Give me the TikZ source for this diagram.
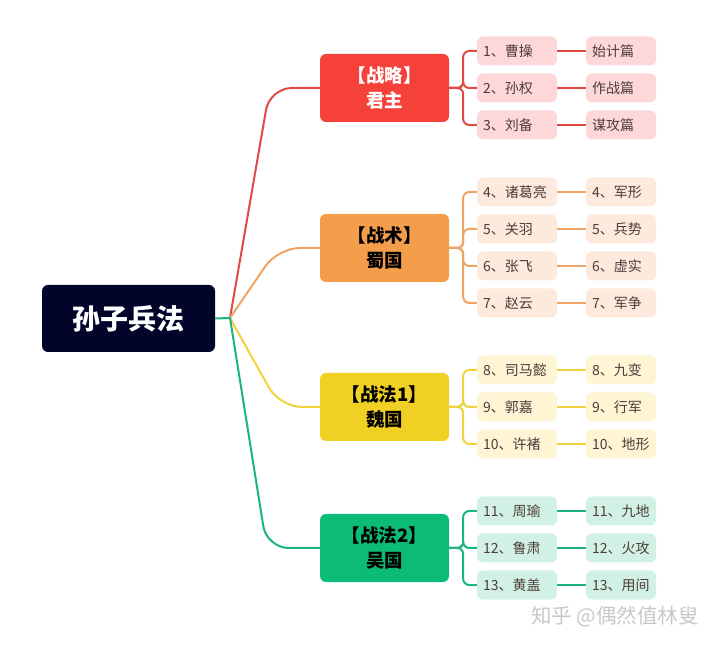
\documentclass[tikz,border=0pt]{standalone}
\usepackage{fontspec}
\setmainfont{Noto Sans CJK SC}
\usetikzlibrary{positioning}
\definecolor{rootbg}{HTML}{03042A}
\definecolor{redbg}{HTML}{F6413A}
\definecolor{orangebg}{HTML}{F49D4B}
\definecolor{yellowbg}{HTML}{F1D024}
\definecolor{greenbg}{HTML}{0CBB76}
\definecolor{redleaf}{HTML}{FED8D8}
\definecolor{orangeleaf}{HTML}{FDEADC}
\definecolor{yellowleaf}{HTML}{FEF5D4}
\definecolor{greenleaf}{HTML}{D2F1E5}
\definecolor{redline}{HTML}{DF4A44}
\definecolor{orangeline}{HTML}{EEA466}
\definecolor{yellowline}{HTML}{F0D23A}
\definecolor{greenline}{HTML}{1BB47E}
\definecolor{leaftext}{HTML}{4D3C3C}
\definecolor{marktext}{HTML}{C8C8C8}

\begin{document}
\begin{tikzpicture}[x=1pt,y=1pt,node distance=37pt,
        root node/.style={rectangle,rounded corners=6pt,fill=rootbg,text=white,
          minimum width=173pt,minimum height=67pt,font=\fontsize{28}{30}\selectfont\bfseries},
        branch node/.style={rectangle,rounded corners=6pt,minimum width=129pt,
          minimum height=68pt,align=center,text=black,font=\fontsize{18.5}{25}\selectfont\bfseries},
        leaf node/.style={rectangle,rounded corners=6pt,minimum height=29pt,text width=68pt,
          inner xsep=6pt,inner ysep=0pt,align=left,text=leaftext,font=\fontsize{14}{16}\selectfont},
        pian node/.style={leaf node,text width=58pt},
        red line/.style={draw=redline,line width=2pt},
        orange line/.style={draw=orangeline,line width=2pt},
        yellow line/.style={draw=yellowline,line width=2pt},
        green line/.style={draw=greenline,line width=2pt},
        watermark/.style={text=marktext,font=\fontsize{20.5}{22}\selectfont}]

        \useasboundingbox (0,0) rectangle (720,648);

        \node[root node] (sunzi) at (128.5,329.5) {孙子兵法};
        \coordinate (jn) at (230,330);

        \node[branch node] [fill=redbg,text=white] (jun) at (384.5,560) {【战略】\\君主};
        \node[branch node] [fill=orangebg] (shu) at (384.5,400) {【战术】\\蜀国};
        \node[branch node] [fill=yellowbg] (wei) at (384.5,241) {【战法1】\\魏国};
        \node[branch node] [fill=greenbg] (wu) at (384.5,100) {【战法2】\\吴国};

        % 君主
        \node[leaf node] [fill=redleaf] (jun1) at (517,597) {1、曹操};
        \node[leaf node] [fill=redleaf] (jun2) [below of=jun1] {2、孙权};
        \node[leaf node] [fill=redleaf] (jun3) [below of=jun2] {3、刘备};
        \node[pian node] [fill=redleaf] (jun1r) [right of=jun1,node distance=104pt] {始计篇};
        \node[pian node] [fill=redleaf] (jun2r) [right of=jun2,node distance=104pt] {作战篇};
        \node[pian node] [fill=redleaf] (jun3r) [right of=jun3,node distance=104pt] {谋攻篇};

        % 蜀国
        \node[leaf node] [fill=orangeleaf] (shu1) at (517,456) {4、诸葛亮};
        \node[leaf node] [fill=orangeleaf] (shu2) [below of=shu1] {5、关羽};
        \node[leaf node] [fill=orangeleaf] (shu3) [below of=shu2] {6、张飞};
        \node[leaf node] [fill=orangeleaf] (shu4) [below of=shu3] {7、赵云};
        \node[pian node] [fill=orangeleaf] (shu1r) [right of=shu1,node distance=104pt] {4、军形};
        \node[pian node] [fill=orangeleaf] (shu2r) [right of=shu2,node distance=104pt] {5、兵势};
        \node[pian node] [fill=orangeleaf] (shu3r) [right of=shu3,node distance=104pt] {6、虚实};
        \node[pian node] [fill=orangeleaf] (shu4r) [right of=shu4,node distance=104pt] {7、军争};

        % 魏国
        \node[leaf node] [fill=yellowleaf] (wei1) at (517,278) {8、司马懿};
        \node[leaf node] [fill=yellowleaf] (wei2) [below of=wei1] {9、郭嘉};
        \node[leaf node] [fill=yellowleaf] (wei3) [below of=wei2] {10、许褚};
        \node[pian node] [fill=yellowleaf] (wei1r) [right of=wei1,node distance=104pt] {8、九变};
        \node[pian node] [fill=yellowleaf] (wei2r) [right of=wei2,node distance=104pt] {9、行军};
        \node[pian node] [fill=yellowleaf] (wei3r) [right of=wei3,node distance=104pt] {10、地形};

        % 吴国
        \node[leaf node] [fill=greenleaf] (wu1) at (517,137) {11、周瑜};
        \node[leaf node] [fill=greenleaf] (wu2) [below of=wu1] {12、鲁肃};
        \node[leaf node] [fill=greenleaf] (wu3) [below of=wu2] {13、黄盖};
        \node[pian node] [fill=greenleaf] (wu1r) [right of=wu1,node distance=104pt] {11、九地};
        \node[pian node] [fill=greenleaf] (wu2r) [right of=wu2,node distance=104pt] {12、火攻};
        \node[pian node] [fill=greenleaf] (wu3r) [right of=wu3,node distance=104pt] {13、用间};

        \node[watermark] (zhihu) at (615,31) {知乎 @偶然值林叟};

        % root to branches
        \draw[red line,rounded corners=22pt] (jn) -- ([xshift=-50pt]jun.west) -- (jun.west);
        \draw[orange line,rounded corners=22pt] (jn) -- ([xshift=-42pt]shu.west) -- (shu.west);
        \draw[yellow line,rounded corners=22pt] (jn) -- ([xshift=-40pt]wei.west) -- (wei.west);
        \draw[green line,rounded corners=22pt] (jn) -- ([xshift=-53pt]wu.west) -- (wu.west);
        \draw[green line] (sunzi.east) -- (jn);

        % branches to leaves
        \draw[red line,rounded corners=6pt] (jun.east) -- ++(14pt,0) |- (jun1.west);
        \draw[red line,rounded corners=6pt] (jun.east) -- ++(14pt,0) |- (jun2.west);
        \draw[red line,rounded corners=6pt] (jun.east) -- ++(14pt,0) |- (jun3.west);
        \draw[orange line,rounded corners=6pt] (shu.east) -- ++(14pt,0) |- (shu1.west);
        \draw[orange line,rounded corners=6pt] (shu.east) -- ++(14pt,0) |- (shu2.west);
        \draw[orange line,rounded corners=6pt] (shu.east) -- ++(14pt,0) |- (shu3.west);
        \draw[orange line,rounded corners=6pt] (shu.east) -- ++(14pt,0) |- (shu4.west);
        \draw[yellow line,rounded corners=6pt] (wei.east) -- ++(14pt,0) |- (wei1.west);
        \draw[yellow line,rounded corners=6pt] (wei.east) -- ++(14pt,0) |- (wei2.west);
        \draw[yellow line,rounded corners=6pt] (wei.east) -- ++(14pt,0) |- (wei3.west);
        \draw[green line,rounded corners=6pt] (wu.east) -- ++(14pt,0) |- (wu1.west);
        \draw[green line,rounded corners=6pt] (wu.east) -- ++(14pt,0) |- (wu2.west);
        \draw[green line,rounded corners=6pt] (wu.east) -- ++(14pt,0) |- (wu3.west);

        % leaves to chapters
        \path[red line]
          (jun1) edge (jun1r)
          (jun2) edge (jun2r)
          (jun3) edge (jun3r);
        \path[orange line]
          (shu1) edge (shu1r)
          (shu2) edge (shu2r)
          (shu3) edge (shu3r)
          (shu4) edge (shu4r);
        \path[yellow line]
          (wei1) edge (wei1r)
          (wei2) edge (wei2r)
          (wei3) edge (wei3r);
        \path[green line]
          (wu1) edge (wu1r)
          (wu2) edge (wu2r)
          (wu3) edge (wu3r);
\end{tikzpicture}
\end{document}
